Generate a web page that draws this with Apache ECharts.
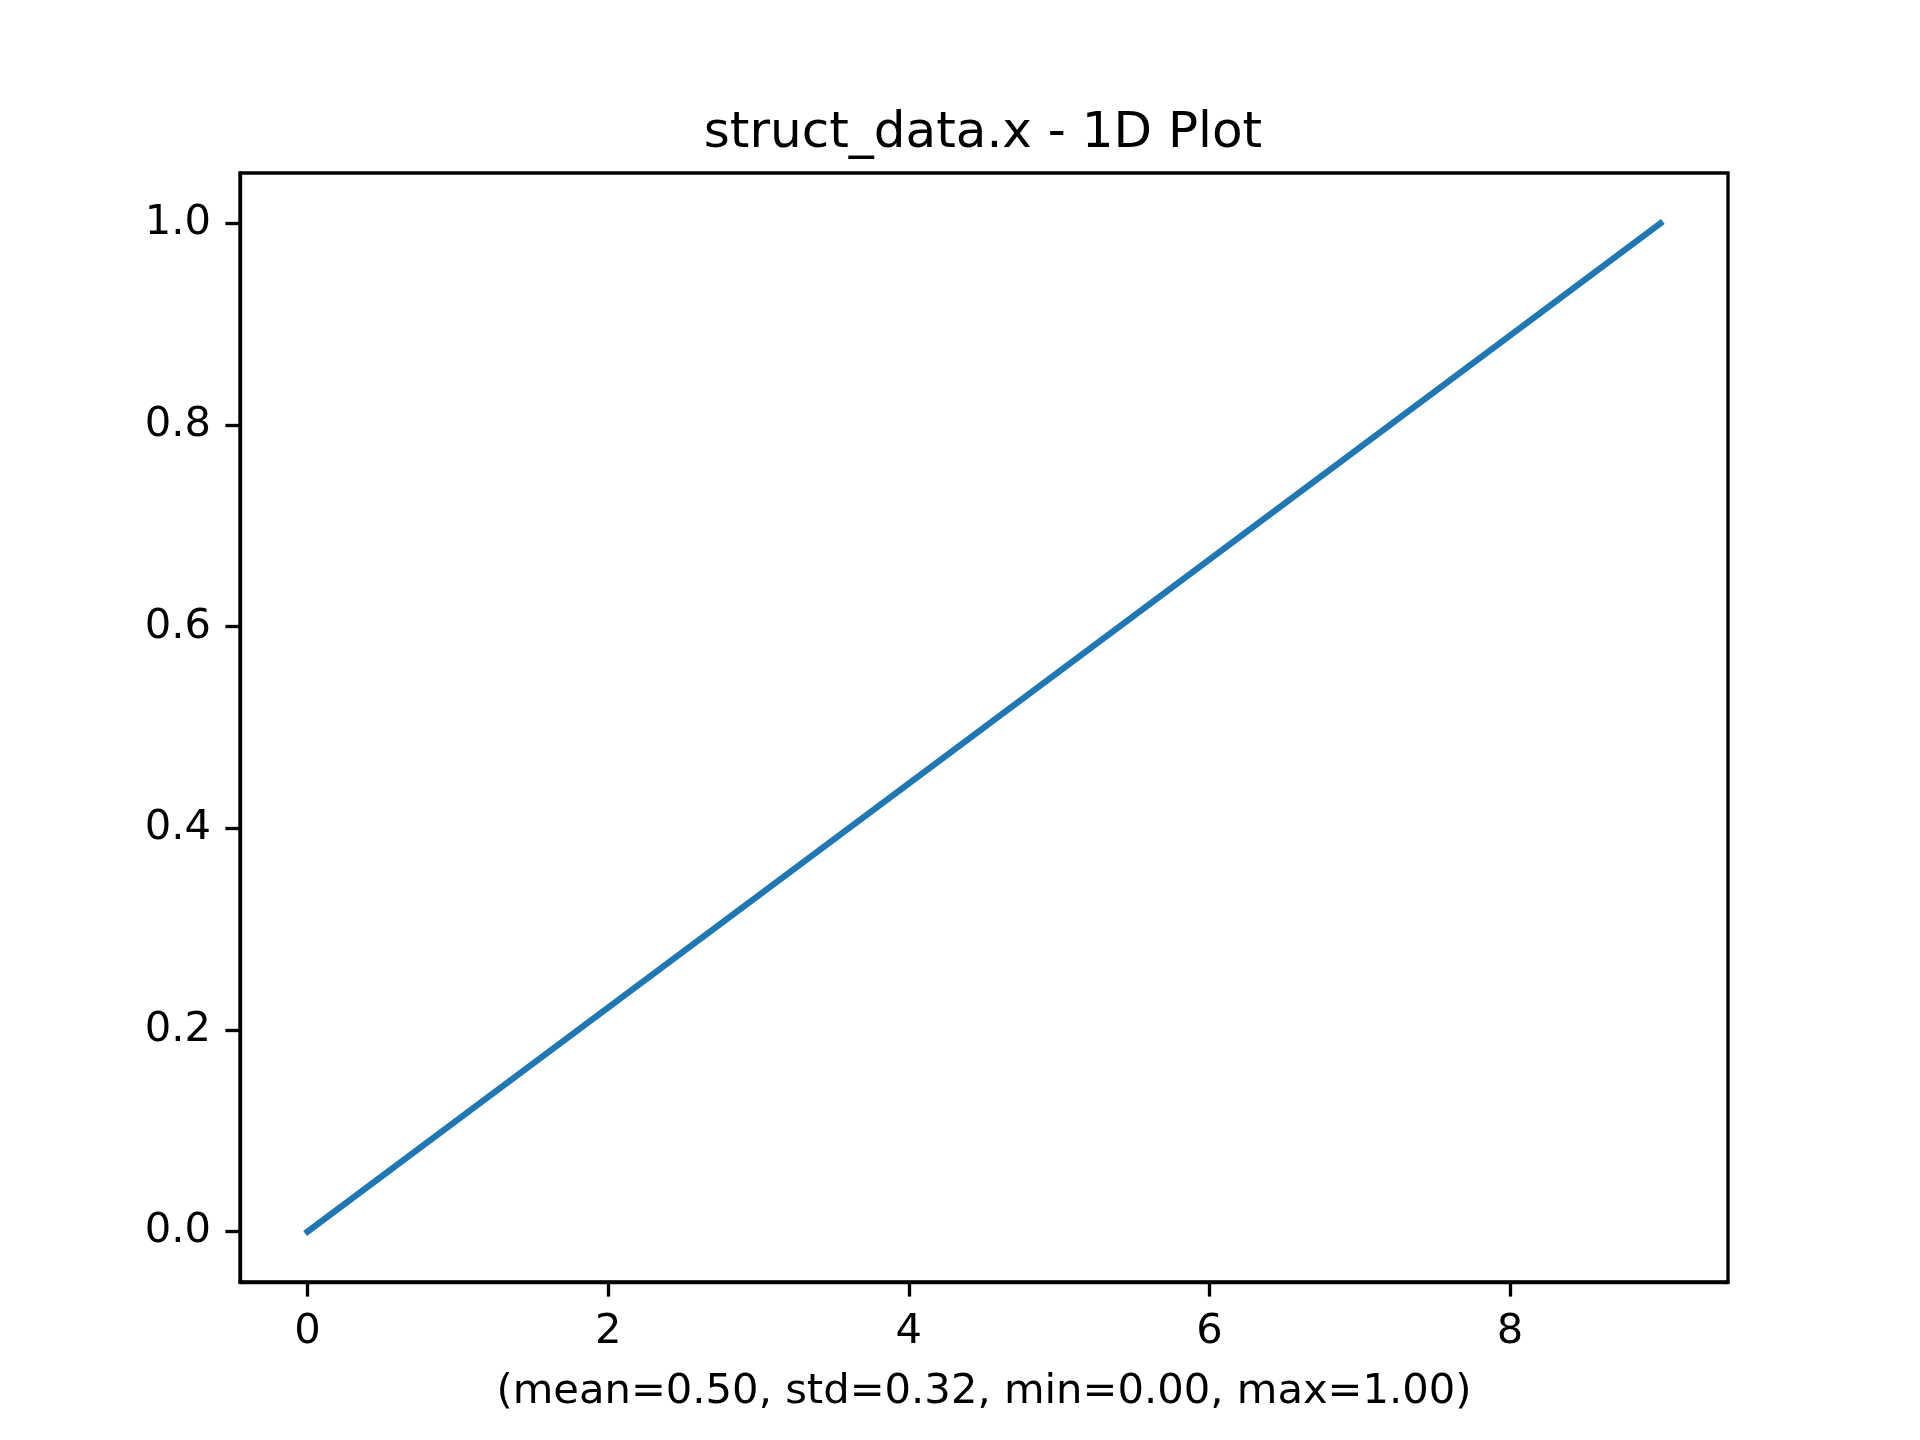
<!DOCTYPE html>
<html>
<head>
<meta charset="utf-8">
<script src="https://cdn.jsdelivr.net/npm/echarts@6/dist/echarts.min.js"></script>
<style>
  html, body { margin: 0; padding: 0; background: #fff; }
  #main { width: 1920px; height: 1440px; }
</style>
</head>
<body>
<div id="main"></div>
<script>
// Data
var xValues = [0, 1, 2, 3, 4, 5, 6, 7, 8, 9];
var yValues = [0.0, 0.1111, 0.2222, 0.3333, 0.4444, 0.5556, 0.6667, 0.7778, 0.8889, 1.0];
var xTicks = [0, 2, 4, 6, 8];
var yTicks = [0.0, 0.2, 0.4, 0.6, 0.8, 1.0];
var titleText = 'struct_data.x - 1D Plot';
var xLabelText = '(mean=0.50, std=0.32, min=0.00, max=1.00)';

var FONT = 'DejaVu Sans';

function paint() {
  var chart = echarts.init(document.getElementById('main'));
  var points = xValues.map(function (x, i) { return [x, yValues[i]]; });

  var axisCommon = {
    type: 'value',
    axisLine: { show: true, onZero: false, lineStyle: { color: '#000', width: 3.3 } },
    axisTick: { show: true, length: 14.6, lineStyle: { color: '#000', width: 3.3 } },
    splitLine: { show: false },
    axisLabel: { color: '#000', fontFamily: FONT, fontSize: 41.7, margin: 29 }
  };

  var option = {
    animation: false,
    backgroundColor: '#fff',
    title: {
      text: titleText,
      left: 978,
      textAlign: 'center',
      top: 104,
      textStyle: { fontFamily: FONT, fontSize: 50, fontWeight: 'normal', color: '#000' }
    },
    grid: { left: 240, right: 192, top: 173, bottom: 158, show: true, borderColor: '#000', borderWidth: 3.3 },
    xAxis: echarts.util.merge({
      min: -0.45,
      max: 9.45,
      name: xLabelText,
      nameLocation: 'middle',
      nameGap: 89,
      nameTextStyle: { fontFamily: FONT, fontSize: 41.7, color: '#000' },
      axisTick: { customValues: xTicks },
      axisLabel: { customValues: xTicks, formatter: function (v) { return String(v); } }
    }, axisCommon),
    yAxis: echarts.util.merge({
      min: -0.05,
      max: 1.05,
      axisTick: { customValues: yTicks },
      axisLabel: { customValues: yTicks, formatter: function (v) { return v.toFixed(1); } }
    }, axisCommon),
    series: [{
      type: 'line',
      data: points,
      showSymbol: false,
      lineStyle: { color: '#1f77b4', width: 6.25, cap: 'square' },
      itemStyle: { color: '#1f77b4' }
    }]
  };

  chart.setOption(option);
}

paint();
</script>
</body>
</html>
